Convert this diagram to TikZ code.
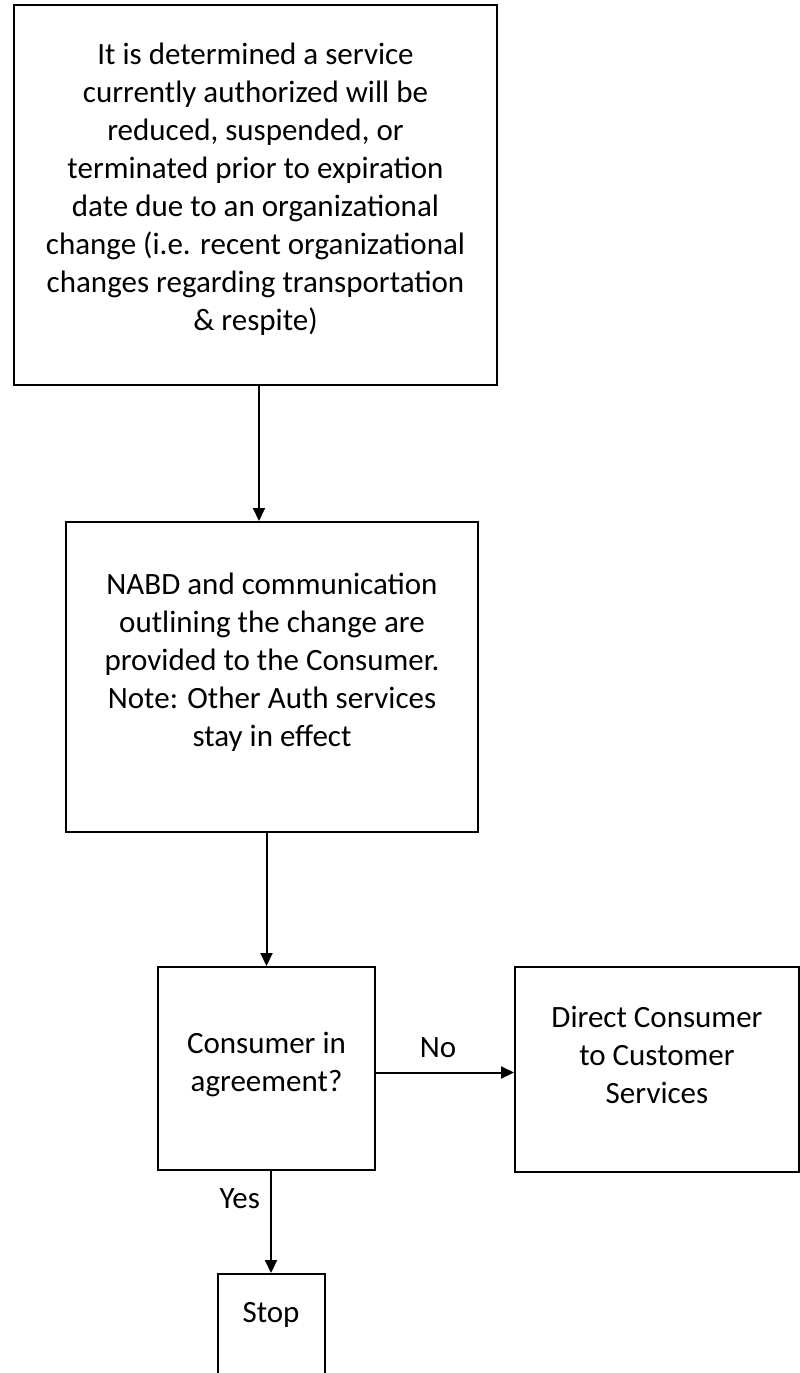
\documentclass[tikz,border=0pt]{standalone}
\usepackage{fontspec}
\setmainfont{Carlito}
\usetikzlibrary{arrows.meta,positioning}

\tikzset{
  flowbox/.style={draw, line width=2pt, rectangle, inner sep=0pt},
  flowtext/.style={align=center, inner sep=0pt, font=\fontsize{31}{38}\selectfont},
  flowarrow/.style={line width=2pt, -{Triangle[length=13pt,width=12pt]}},
}

\begin{document}
\begin{tikzpicture}[x=1pt, y=-1pt]
  \useasboundingbox (0,0) rectangle (800,1373);
  \clip (0,0) rectangle (800,1373);

  % Define the boxes
  \node[flowbox, minimum width=483pt, minimum height=380pt] (notice) at (255.5,195) {};
  \node[flowbox, minimum width=412pt, minimum height=310pt] (nabd) at (272,677) {};
  \node[flowbox, minimum width=217pt, minimum height=203pt] (agree) at (266.5,1068.5) {};
  \node[flowbox, minimum width=284pt, minimum height=205pt] (direct) at (657,1069.5) {};
  \node[flowbox, minimum width=107pt, minimum height=126pt] (stop) at (271,1337) {};

  % Texts inside the boxes
  \node[flowtext] (noticetext) at (255.5,189) {It is determined a service\\
    currently authorized will be\\
    reduced, suspended, or\\
    terminated prior to expiration\\
    date due to an organizational\\
    change (i.e. recent organizational\\
    changes regarding transportation\\
    \& respite)};
  \node[flowtext] (nabdtext) at (272,662) {NABD and communication\\
    outlining the change are\\
    provided to the Consumer.\\
    Note: Other Auth services\\
    stay in effect};
  \node[flowtext] (agreetext) at (266.5,1064) {Consumer in\\ agreement?};
  \node[flowtext] (directtext) at (657,1055) {Direct Consumer\\ to Customer\\ Services};
  \node[flowtext] (stoptext) at (271,1315) {Stop};

  % Draw the arrows between the boxes
  \draw[flowarrow] ([xshift=3.5pt]notice.south) -- ([xshift=3.5pt]notice.south |- nabd.north);
  \draw[flowarrow] (nabd.south -| agree.north) -- (agree.north);
  \draw[flowarrow] ([yshift=-4pt]agree.east) -- ([yshift=-4pt]agree.east -| direct.west)
    node[flowtext, pos=0.45, above=14pt] (nolabel) {No};
  \draw[flowarrow] (agree.south -| stop.north) -- (stop.north)
    node[flowtext, pos=0.27, left=10pt] (yeslabel) {Yes};
\end{tikzpicture}
\end{document}
